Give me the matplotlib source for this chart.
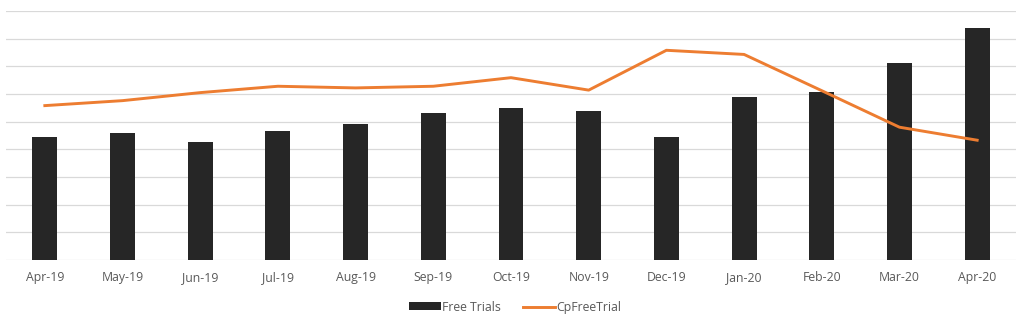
import numpy as np
import matplotlib.pyplot as plt

# Data (arbitrary units, axis hidden)
months = ["Apr-19", "May-19", "Jun-19", "Jul-19", "Aug-19", "Sep-19", "Oct-19",
          "Nov-19", "Dec-19", "Jan-20", "Feb-20", "Mar-20", "Apr-20"]
free_trials = [4.43, 4.59, 4.26, 4.67, 4.90, 5.30, 5.49, 5.37, 4.43, 5.88, 6.06, 7.11, 8.38]
cp_free_trial = [5.58, 5.76, 6.05, 6.28, 6.22, 6.28, 6.59, 6.14, 7.58, 7.43, 6.12, 4.80, 4.33]

plt.rcParams["font.family"] = ["Open Sans", "DejaVu Sans"]

fig = plt.figure(figsize=(10.24, 3.24), dpi=100)
ax = fig.add_axes([6 / 1024, 64 / 324, 1010 / 1024, 249 / 324])

x = np.arange(len(months))
bars = ax.bar(x, free_trials, width=0.32, color="#262626", label="Free Trials", zorder=2)
line, = ax.plot(x, cp_free_trial, color="#ED7D31", linewidth=2.1, label="CpFreeTrial", zorder=3)

ax.set_xlim(-0.5, len(months) - 0.5)
ax.set_ylim(0, 9)
ax.set_yticks(range(0, 10))
ax.set_yticklabels([])
ax.set_xticks(x)
ax.set_xticklabels(months, color="#595959", fontsize=8.8)
ax.tick_params(axis="both", length=0)
ax.tick_params(axis="x", pad=8)
ax.grid(axis="y", color="#D9D9D9", linewidth=0.9, zorder=0)
for s in ax.spines.values():
    s.set_visible(False)

fig.legend([bars, line], ["Free Trials", "CpFreeTrial"], loc="center",
           bbox_to_anchor=(0.503, 0.052), ncol=2, frameon=False,
           fontsize=8.8, labelcolor="#595959", handlelength=2.6, handleheight=0.6,
           columnspacing=1.8, handletextpad=0.1)

fig.savefig("out.png", dpi=100)
